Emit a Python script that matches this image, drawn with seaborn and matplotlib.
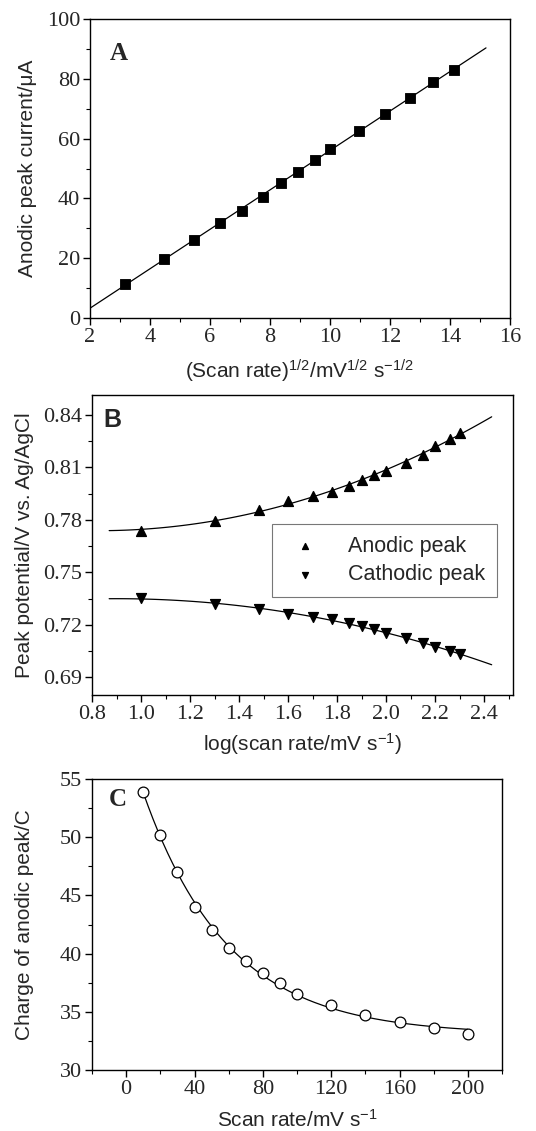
import numpy as np
import pandas as pd
import matplotlib
matplotlib.use("Agg")
import matplotlib.pyplot as plt
from matplotlib.ticker import MultipleLocator, FormatStrFormatter
import seaborn as sns

# scan rates (mV/s)
scan_rate = [10, 20, 30, 40, 50, 60, 70, 80, 90, 100, 120, 140, 160, 180, 200]

# A: anodic peak current vs sqrt(scan rate)
sqrt_rate = [3.16, 4.47, 5.48, 6.32, 7.07, 7.75, 8.37, 8.94, 9.49, 10.0,
             10.95, 11.83, 12.65, 13.42, 14.14]
peak_current = [11.5, 19.6, 26.1, 31.9, 35.9, 40.5, 45.3, 48.9, 53.0, 56.5,
                62.5, 68.1, 73.6, 78.8, 83.1]

# B: peak potentials vs log(scan rate)
log_rate = [1.0, 1.30, 1.48, 1.60, 1.70, 1.78, 1.85, 1.90, 1.95, 2.0,
            2.08, 2.15, 2.20, 2.26, 2.30]
anodic_E = [0.7739, 0.7796, 0.7857, 0.7908, 0.7939, 0.7962, 0.7992, 0.8028,
            0.8055, 0.8078, 0.8126, 0.8173, 0.8223, 0.8265, 0.8299]
cathodic_E = [0.7354, 0.7319, 0.7293, 0.7262, 0.7243, 0.7234, 0.7213, 0.7194,
              0.7175, 0.7156, 0.7127, 0.7099, 0.7072, 0.7051, 0.7033]

# C: charge of anodic peak vs scan rate
charge = [53.9, 50.2, 47.0, 44.0, 42.0, 40.5, 39.4, 38.3, 37.45, 36.5,
          35.6, 34.7, 34.1, 33.6, 33.1]

sns.set_theme(style="ticks")
plt.rcParams["font.family"] = ["Liberation Serif", "DejaVu Serif"]
plt.rcParams["mathtext.fontset"] = "custom"
plt.rcParams["mathtext.rm"] = "Liberation Sans"
plt.rcParams["mathtext.it"] = "Liberation Sans:italic"
plt.rcParams["xtick.direction"] = "out"
plt.rcParams["ytick.direction"] = "out"

SANS = ["Liberation Sans", "DejaVu Sans"]
lab_font = dict(family=SANS, size=15)

fig = plt.figure(figsize=(5.36, 11.31), dpi=100)
W, H = 536, 1131
axA = fig.add_axes([90 / W, 1 - 318 / H, 420 / W, 299 / H])
axB = fig.add_axes([92 / W, 1 - 695 / H, 421 / W, 300 / H])
axC = fig.add_axes([92 / W, 1 - 1070 / H, 410 / W, 291 / H])


def style(ax):
    for s in ax.spines.values():
        s.set_linewidth(1.0)
        s.set_color("black")
    ax.tick_params(which="major", length=5, width=1, labelsize=16,
                   color="black", pad=2)
    ax.tick_params(which="minor", length=3, width=0.8, color="black")
    ax.tick_params(top=False, right=False)


# ---- A
p = np.polyfit(sqrt_rate, peak_current, 1)
xa = np.linspace(2, 15.2, 50)
sns.lineplot(x=xa, y=np.polyval(p, xa), ax=axA, color="black", lw=0.9)
sns.scatterplot(x=sqrt_rate, y=peak_current, ax=axA, marker="s", s=60,
                color="black", edgecolor="black", zorder=3)
axA.set_xlim(2, 16)
axA.set_ylim(0, 100)
axA.xaxis.set_major_locator(MultipleLocator(2))
axA.xaxis.set_minor_locator(MultipleLocator(1))
axA.yaxis.set_major_locator(MultipleLocator(20))
axA.yaxis.set_minor_locator(MultipleLocator(10))
axA.set_xlabel(r"(Scan rate)$^{\mathregular{1/2}}$/mV$^{\mathregular{1/2}}$ s$^{\mathregular{-1/2}}$",
               fontdict=lab_font)
axA.set_ylabel("Anodic peak current/μA", fontdict=lab_font)
axA.xaxis.set_label_coords(0.5, -0.134)
axA.yaxis.set_label_coords(-0.126, 0.5)
axA.text(0.048, 0.886, "A", transform=axA.transAxes, fontsize=18,
         fontweight="bold", va="center", ha="left")
style(axA)

# ---- B
xb = np.linspace(0.87, 2.43, 100)
pa = np.polyfit(log_rate, anodic_E, 2)
pc = np.polyfit(log_rate, cathodic_E, 2)
sns.lineplot(x=xb, y=np.polyval(pa, xb), ax=axB, color="black", lw=0.9)
sns.lineplot(x=xb, y=np.polyval(pc, xb), ax=axB, color="black", lw=0.9)
axB.scatter(log_rate, anodic_E, marker="^", s=50, color="black",
            zorder=3, label="Anodic peak")
axB.scatter(log_rate, cathodic_E, marker="v", s=50, color="black",
            zorder=3, label="Cathodic peak")
axB.set_xlim(0.8, 2.517)
axB.set_ylim(0.680, 0.8514)
axB.xaxis.set_major_locator(MultipleLocator(0.2))
axB.xaxis.set_minor_locator(MultipleLocator(0.1))
axB.yaxis.set_major_locator(MultipleLocator(0.03))
axB.yaxis.set_minor_locator(MultipleLocator(0.015))
axB.xaxis.set_major_formatter(FormatStrFormatter("%.1f"))
axB.yaxis.set_major_formatter(FormatStrFormatter("%.2f"))
axB.set_xlabel(r"log(scan rate/mV s$^{\mathregular{-1}}$)", fontdict=lab_font)
axB.set_ylabel("Peak potential/V vs. Ag/AgCl", fontdict=lab_font)
axB.xaxis.set_label_coords(0.5, -0.12)
axB.yaxis.set_label_coords(-0.138, 0.5)
axB.text(0.026, 0.917, "B", transform=axB.transAxes, fontsize=18,
         fontweight="bold", va="center", ha="left", fontfamily=SANS)
leg = axB.legend(loc="upper left", bbox_to_anchor=((272 - 92) / 421, (695 - 524) / 300),
                 frameon=True, fancybox=False, markerscale=0.6, handletextpad=1.0,
                 handlelength=2.0, prop=dict(family=SANS, size=15.5),
                 borderpad=0.55, labelspacing=0.35, borderaxespad=0)
leg.get_frame().set_edgecolor("#555555")
leg.get_frame().set_linewidth(0.8)
style(axB)

# ---- C
xr = np.array(scan_rate, dtype=float)
yr = np.array(charge)
best = None
for t in np.linspace(5, 200, 1000):
    M = np.column_stack([np.ones_like(xr), np.exp(-xr / t)])
    coef, *_ = np.linalg.lstsq(M, yr, rcond=None)
    r = np.sum((M @ coef - yr) ** 2)
    if best is None or r < best[0]:
        best = (r, t, coef)
_, tau, (y0, amp) = best
xc = np.linspace(10, 200, 200)
sns.lineplot(x=xc, y=y0 + amp * np.exp(-xc / tau), ax=axC, color="black", lw=0.9)
sns.scatterplot(x=scan_rate, y=charge, ax=axC, marker="o", s=60,
                facecolor="white", edgecolor="black", linewidth=0.9, zorder=3)
axC.set_xlim(-20, 220)
axC.set_ylim(30, 55)
axC.xaxis.set_major_locator(MultipleLocator(40))
axC.xaxis.set_minor_locator(MultipleLocator(20))
axC.yaxis.set_major_locator(MultipleLocator(5))
axC.yaxis.set_minor_locator(MultipleLocator(2.5))
axC.set_xlabel(r"Scan rate/mV s$^{\mathregular{-1}}$", fontdict=lab_font)
axC.set_ylabel("Charge of anodic peak/C", fontdict=lab_font)
axC.xaxis.set_label_coords(0.5, -0.132)
axC.yaxis.set_label_coords(-0.141, 0.5)
axC.text(0.04, 0.928, "C", transform=axC.transAxes, fontsize=18,
         fontweight="bold", va="center", ha="left")
style(axC)

fig.savefig("out.png", dpi=100, facecolor="white")
